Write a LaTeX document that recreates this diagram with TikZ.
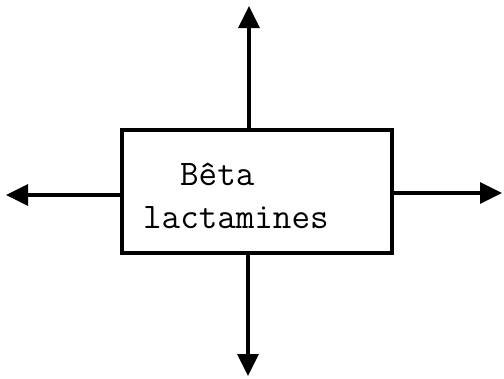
\documentclass[tikz,border=0pt]{standalone}
\usetikzlibrary{arrows.meta,calc}
\begin{document}
\begin{tikzpicture}[x=1bp,y=-1bp,
  boxst/.style={draw,line width=3.4bp,minimum width=270bp,minimum height=123bp,inner sep=0pt},
  txt/.style={inner sep=0pt,anchor=base west,font=\ttfamily\fontsize{36bp}{40bp}\selectfont},
  arr/.style={line width=3.2bp,-{Triangle[length=22bp,width=21bp]}}]
\useasboundingbox (0,0) rectangle (504,378);
\node[boxst] (box) at (257,191.5) {};
\node[txt] (t1) at (180,185) {Bêta};
\node[txt] (t2) at (143,228) {lactamines};
\coordinate (up) at (249,6);
\coordinate (dn) at (248,376);
\coordinate (lt) at (6,195);
\coordinate (rt) at (502,193);
\draw[arr] (box.north -| up) -- (up);
\draw[arr] (box.south -| dn) -- (dn);
\draw[arr] (box.west |- lt) -- (lt);
\draw[arr] (box.east |- rt) -- (rt);
\end{tikzpicture}
\end{document}
